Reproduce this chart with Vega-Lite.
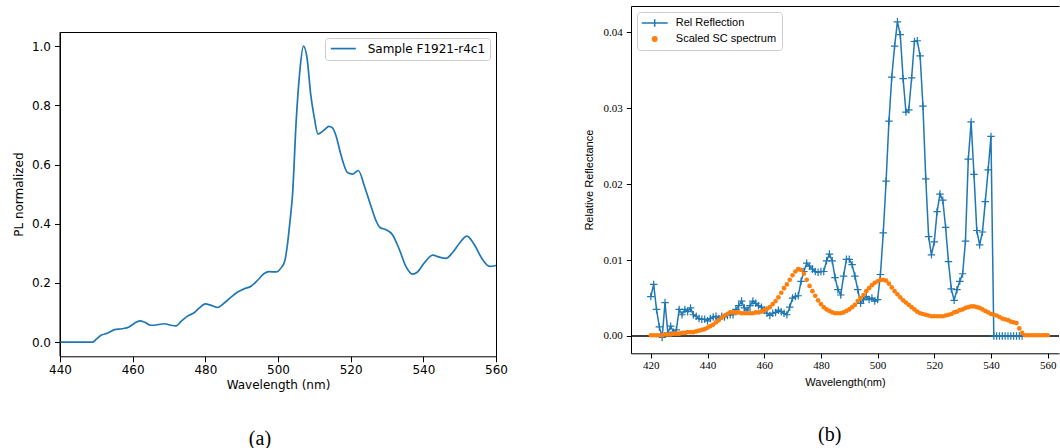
{
  "$schema": "https://vega.github.io/schema/vega-lite/v6.json",
  "background": "white",
  "padding": {"left": 11, "top": 5, "right": 0, "bottom": 0},
  "columns": 2,
  "align": "none",
  "spacing": {"row": 0, "column": 75},
  "resolve": {"scale": {"color": "independent"}, "legend": {"color": "independent"}},
  "config": {
    "font": "DejaVu Sans",
    "view": {"stroke": "black", "strokeWidth": 1},
    "axis": {"grid": false, "domainColor": "black", "tickColor": "black", "labelColor": "black", "titleColor": "black", "titleFontWeight": "normal"}
  },
  "datasets": {
    "pl": [
      {"w": 440, "v": 0}, {"w": 445, "v": 0}, {"w": 449, "v": 0}, {"w": 450, "v": 0.01}, {"w": 451.3, "v": 0.023},
      {"w": 453, "v": 0.03}, {"w": 455, "v": 0.042}, {"w": 457, "v": 0.045}, {"w": 459, "v": 0.051}, {"w": 460.5, "v": 0.064},
      {"w": 462, "v": 0.072}, {"w": 463.2, "v": 0.068}, {"w": 465, "v": 0.057}, {"w": 467, "v": 0.059}, {"w": 468.7, "v": 0.062},
      {"w": 470.5, "v": 0.057}, {"w": 472, "v": 0.055}, {"w": 473.3, "v": 0.07}, {"w": 475, "v": 0.087}, {"w": 477, "v": 0.1},
      {"w": 478.3, "v": 0.115}, {"w": 480, "v": 0.129}, {"w": 481.6, "v": 0.124}, {"w": 483.4, "v": 0.117}, {"w": 485.2, "v": 0.132},
      {"w": 487, "v": 0.151}, {"w": 488.9, "v": 0.169}, {"w": 490.7, "v": 0.18}, {"w": 492.6, "v": 0.189}, {"w": 494.4, "v": 0.209},
      {"w": 496.2, "v": 0.232}, {"w": 497.5, "v": 0.238}, {"w": 499.5, "v": 0.237}, {"w": 500.8, "v": 0.25}, {"w": 501.9, "v": 0.276},
      {"w": 502.6, "v": 0.33}, {"w": 503.3, "v": 0.408}, {"w": 504, "v": 0.498}, {"w": 505, "v": 0.746}, {"w": 506, "v": 0.915},
      {"w": 507, "v": 1.0}, {"w": 508, "v": 0.96}, {"w": 509, "v": 0.837}, {"w": 510, "v": 0.758}, {"w": 511, "v": 0.703},
      {"w": 512.8, "v": 0.718}, {"w": 514, "v": 0.729}, {"w": 515, "v": 0.724}, {"w": 516, "v": 0.696}, {"w": 517.3, "v": 0.634},
      {"w": 519.2, "v": 0.572}, {"w": 520.5, "v": 0.568}, {"w": 522.1, "v": 0.58}, {"w": 523.8, "v": 0.527}, {"w": 525.3, "v": 0.47},
      {"w": 527, "v": 0.41}, {"w": 528, "v": 0.388}, {"w": 529.7, "v": 0.38}, {"w": 531.5, "v": 0.363}, {"w": 533.4, "v": 0.313},
      {"w": 535.2, "v": 0.256}, {"w": 537, "v": 0.23}, {"w": 538.4, "v": 0.237}, {"w": 540.3, "v": 0.268}, {"w": 542.6, "v": 0.294},
      {"w": 544.4, "v": 0.287}, {"w": 546.2, "v": 0.283}, {"w": 548, "v": 0.302}, {"w": 550, "v": 0.335}, {"w": 552, "v": 0.358},
      {"w": 554, "v": 0.33}, {"w": 556.3, "v": 0.279}, {"w": 558.2, "v": 0.256}, {"w": 560, "v": 0.259}
    ],
    "refl": [
      {"w": 420, "v": 0.0052}, {"w": 421, "v": 0.0068}, {"w": 422, "v": 0.0035}, {"w": 423, "v": 0.0012}, {"w": 424, "v": -0.0002},
      {"w": 425, "v": 0.0044}, {"w": 426, "v": 0.0004}, {"w": 427, "v": 0.0013}, {"w": 428, "v": 0.0005}, {"w": 429, "v": 0.0008},
      {"w": 430, "v": 0.0035}, {"w": 431, "v": 0.0028}, {"w": 432, "v": 0.0035}, {"w": 433, "v": 0.0032}, {"w": 434, "v": 0.0037},
      {"w": 435, "v": 0.0028}, {"w": 436, "v": 0.0026}, {"w": 437, "v": 0.0023}, {"w": 438, "v": 0.0022}, {"w": 439, "v": 0.0022},
      {"w": 440, "v": 0.002}, {"w": 441, "v": 0.0023}, {"w": 442, "v": 0.0025}, {"w": 443, "v": 0.0026}, {"w": 444, "v": 0.0023},
      {"w": 445, "v": 0.0026}, {"w": 446, "v": 0.0025}, {"w": 447, "v": 0.0027}, {"w": 448, "v": 0.0028}, {"w": 449, "v": 0.0028},
      {"w": 450, "v": 0.0035}, {"w": 451, "v": 0.004}, {"w": 452, "v": 0.0046}, {"w": 453, "v": 0.0037}, {"w": 454, "v": 0.0034},
      {"w": 455, "v": 0.004}, {"w": 456, "v": 0.0046}, {"w": 457, "v": 0.0043}, {"w": 458, "v": 0.004}, {"w": 459, "v": 0.0038},
      {"w": 460, "v": 0.0034}, {"w": 461, "v": 0.003}, {"w": 462, "v": 0.0027}, {"w": 463, "v": 0.003}, {"w": 464, "v": 0.0031},
      {"w": 465, "v": 0.0034}, {"w": 466, "v": 0.0032}, {"w": 467, "v": 0.003}, {"w": 468, "v": 0.0028}, {"w": 469, "v": 0.0038},
      {"w": 470, "v": 0.005}, {"w": 471, "v": 0.0052}, {"w": 472, "v": 0.0053}, {"w": 473, "v": 0.0072}, {"w": 474, "v": 0.0085},
      {"w": 475, "v": 0.0096}, {"w": 476, "v": 0.0092}, {"w": 477, "v": 0.0088}, {"w": 478, "v": 0.0085}, {"w": 479, "v": 0.0084},
      {"w": 480, "v": 0.0085}, {"w": 481, "v": 0.0085}, {"w": 482, "v": 0.0099}, {"w": 483, "v": 0.0108}, {"w": 484, "v": 0.0099},
      {"w": 485, "v": 0.0077}, {"w": 486, "v": 0.0061}, {"w": 487, "v": 0.0054}, {"w": 488, "v": 0.0079}, {"w": 489, "v": 0.0101},
      {"w": 490, "v": 0.0101}, {"w": 491, "v": 0.0094}, {"w": 492, "v": 0.0079}, {"w": 493, "v": 0.0061}, {"w": 494, "v": 0.0043},
      {"w": 495, "v": 0.0048}, {"w": 496, "v": 0.0052}, {"w": 497, "v": 0.0048}, {"w": 498, "v": 0.005}, {"w": 499, "v": 0.0046},
      {"w": 500, "v": 0.0048}, {"w": 501, "v": 0.0081}, {"w": 502, "v": 0.0136}, {"w": 503, "v": 0.0204}, {"w": 504, "v": 0.0283},
      {"w": 505, "v": 0.0341}, {"w": 506, "v": 0.0382}, {"w": 507, "v": 0.0414}, {"w": 508, "v": 0.0397}, {"w": 509, "v": 0.0339},
      {"w": 510, "v": 0.0295}, {"w": 511, "v": 0.0298}, {"w": 512, "v": 0.034}, {"w": 513, "v": 0.0388}, {"w": 514, "v": 0.0389},
      {"w": 515, "v": 0.0369}, {"w": 516, "v": 0.0303}, {"w": 517, "v": 0.0207}, {"w": 518, "v": 0.0131}, {"w": 519, "v": 0.0107},
      {"w": 520, "v": 0.0124}, {"w": 521, "v": 0.0164}, {"w": 522, "v": 0.0187}, {"w": 523, "v": 0.0179}, {"w": 524, "v": 0.0143},
      {"w": 525, "v": 0.0098}, {"w": 526, "v": 0.0062}, {"w": 527, "v": 0.0047}, {"w": 528, "v": 0.0061}, {"w": 529, "v": 0.0072},
      {"w": 530, "v": 0.0082}, {"w": 531, "v": 0.0125}, {"w": 532, "v": 0.0233}, {"w": 533, "v": 0.0282}, {"w": 534, "v": 0.0213},
      {"w": 535, "v": 0.0139}, {"w": 536, "v": 0.012}, {"w": 537, "v": 0.0137}, {"w": 538, "v": 0.0177}, {"w": 539, "v": 0.0219},
      {"w": 540, "v": 0.0263}, {"w": 541, "v": 0}, {"w": 542, "v": 0}, {"w": 543, "v": 0}, {"w": 544, "v": 0},
      {"w": 545, "v": 0}, {"w": 546, "v": 0}, {"w": 547, "v": 0}, {"w": 548, "v": 0}, {"w": 549, "v": 0},
      {"w": 550, "v": 0}, {"w": 551, "v": 0}
    ],
    "sc": [
      {"w": 420, "v": 0.0001}, {"w": 421, "v": 0.0001}, {"w": 422, "v": 0.0001}, {"w": 423, "v": 0.0001}, {"w": 424, "v": 0.0001},
      {"w": 425, "v": 0.0002}, {"w": 426, "v": 0.0002}, {"w": 427, "v": 0.0002}, {"w": 428, "v": 0.0003}, {"w": 429, "v": 0.0003},
      {"w": 430, "v": 0.0003}, {"w": 431, "v": 0.0004}, {"w": 432, "v": 0.0004}, {"w": 433, "v": 0.0005}, {"w": 434, "v": 0.0005},
      {"w": 435, "v": 0.0005}, {"w": 436, "v": 0.0006}, {"w": 437, "v": 0.0007}, {"w": 438, "v": 0.0008}, {"w": 439, "v": 0.0009},
      {"w": 440, "v": 0.0011}, {"w": 441, "v": 0.0013}, {"w": 442, "v": 0.0015}, {"w": 443, "v": 0.0018}, {"w": 444, "v": 0.0021},
      {"w": 445, "v": 0.0024}, {"w": 446, "v": 0.0027}, {"w": 447, "v": 0.0029}, {"w": 448, "v": 0.0031}, {"w": 449, "v": 0.0031},
      {"w": 450, "v": 0.0031}, {"w": 451, "v": 0.0031}, {"w": 452, "v": 0.003}, {"w": 453, "v": 0.003}, {"w": 454, "v": 0.003},
      {"w": 455, "v": 0.003}, {"w": 456, "v": 0.003}, {"w": 457, "v": 0.0031}, {"w": 458, "v": 0.0031}, {"w": 459, "v": 0.0032},
      {"w": 460, "v": 0.0034}, {"w": 461, "v": 0.0036}, {"w": 462, "v": 0.0038}, {"w": 463, "v": 0.0042}, {"w": 464, "v": 0.0046},
      {"w": 465, "v": 0.0051}, {"w": 466, "v": 0.0057}, {"w": 467, "v": 0.0063}, {"w": 468, "v": 0.0068}, {"w": 469, "v": 0.0074},
      {"w": 470, "v": 0.008}, {"w": 471, "v": 0.0085}, {"w": 472, "v": 0.0088}, {"w": 473, "v": 0.0087}, {"w": 474, "v": 0.0082},
      {"w": 475, "v": 0.0074}, {"w": 476, "v": 0.0066}, {"w": 477, "v": 0.0059}, {"w": 478, "v": 0.0053}, {"w": 479, "v": 0.0047},
      {"w": 480, "v": 0.0042}, {"w": 481, "v": 0.0038}, {"w": 482, "v": 0.0035}, {"w": 483, "v": 0.0033}, {"w": 484, "v": 0.0031},
      {"w": 485, "v": 0.003}, {"w": 486, "v": 0.003}, {"w": 487, "v": 0.003}, {"w": 488, "v": 0.0031}, {"w": 489, "v": 0.0033},
      {"w": 490, "v": 0.0035}, {"w": 491, "v": 0.0038}, {"w": 492, "v": 0.0041}, {"w": 493, "v": 0.0046}, {"w": 494, "v": 0.005},
      {"w": 495, "v": 0.0054}, {"w": 496, "v": 0.0059}, {"w": 497, "v": 0.0063}, {"w": 498, "v": 0.0067}, {"w": 499, "v": 0.007},
      {"w": 500, "v": 0.0072}, {"w": 501, "v": 0.0074}, {"w": 502, "v": 0.0074}, {"w": 503, "v": 0.0073}, {"w": 504, "v": 0.0069},
      {"w": 505, "v": 0.0064}, {"w": 506, "v": 0.0059}, {"w": 507, "v": 0.0055}, {"w": 508, "v": 0.0051}, {"w": 509, "v": 0.0047},
      {"w": 510, "v": 0.0044}, {"w": 511, "v": 0.0041}, {"w": 512, "v": 0.0038}, {"w": 513, "v": 0.0035}, {"w": 514, "v": 0.0032},
      {"w": 515, "v": 0.003}, {"w": 516, "v": 0.0029}, {"w": 517, "v": 0.0028}, {"w": 518, "v": 0.0027}, {"w": 519, "v": 0.0026},
      {"w": 520, "v": 0.0026}, {"w": 521, "v": 0.0026}, {"w": 522, "v": 0.0026}, {"w": 523, "v": 0.0026}, {"w": 524, "v": 0.0027},
      {"w": 525, "v": 0.0028}, {"w": 526, "v": 0.0029}, {"w": 527, "v": 0.0031}, {"w": 528, "v": 0.0032}, {"w": 529, "v": 0.0034},
      {"w": 530, "v": 0.0035}, {"w": 531, "v": 0.0037}, {"w": 532, "v": 0.0038}, {"w": 533, "v": 0.0039}, {"w": 534, "v": 0.0039},
      {"w": 535, "v": 0.0038}, {"w": 536, "v": 0.0037}, {"w": 537, "v": 0.0035}, {"w": 538, "v": 0.0033}, {"w": 539, "v": 0.0031},
      {"w": 540, "v": 0.0029}, {"w": 541, "v": 0.0028}, {"w": 542, "v": 0.0027}, {"w": 543, "v": 0.0025}, {"w": 544, "v": 0.0023},
      {"w": 545, "v": 0.0022}, {"w": 546, "v": 0.0021}, {"w": 547, "v": 0.0019}, {"w": 548, "v": 0.0018}, {"w": 549, "v": 0.0017},
      {"w": 550, "v": 0.001}, {"w": 551, "v": 0.0004}, {"w": 552, "v": 0.0001}, {"w": 553, "v": 0.0001}, {"w": 554, "v": 0.0001},
      {"w": 555, "v": 0.0001}, {"w": 556, "v": 0.0001}, {"w": 557, "v": 0.0001}, {"w": 558, "v": 0.0001}, {"w": 559, "v": 0.0001},
      {"w": 560, "v": 0.0001}
    ]
  },
  "concat": [
    {"width": 1, "height": 1, "view": {"stroke": null}, "data": {"values": []}, "mark": "point"},
    {"width": 1, "height": 1, "view": {"stroke": null}, "data": {"values": []}, "mark": "point"},
    {
      "width": 436,
      "height": 324.3,
      "title": {"text": "(a)", "orient": "bottom", "font": "Liberation Serif", "fontSize": 20, "fontWeight": "normal", "color": "black", "frame": "bounds", "anchor": "middle", "offset": 38},
      "layer": [
        {
          "data": {"name": "pl"},
          "mark": {"type": "line", "strokeWidth": 1.7, "interpolate": "monotone"},
          "encoding": {
            "x": {"field": "w", "type": "quantitative", "scale": {"domain": [440, 560], "nice": false, "zero": false},
                  "axis": {"values": [440, 460, 480, 500, 520, 540, 560], "format": "d", "labelFlush": false, "domain": false,
                           "title": "Wavelength (nm)", "titleFont": "DejaVu Sans", "titleFontSize": 12, "labelFont": "DejaVu Sans", "labelFontSize": 12,
                           "tickSize": 5.5, "labelPadding": 3, "titlePadding": 4}},
            "y": {"field": "v", "type": "quantitative", "scale": {"domain": [-0.048, 1.048], "nice": false, "zero": false},
                  "axis": {"values": [0, 0.2, 0.4, 0.6, 0.8, 1.0], "format": ".1f", "domain": false,
                           "title": "PL normalized", "titleFont": "DejaVu Sans", "titleFontSize": 12, "labelFont": "DejaVu Sans", "labelFontSize": 12,
                           "tickSize": 5.5, "labelPadding": 4, "titlePadding": 6}},
            "color": {"datum": "Sample F1921-r4c1", "type": "nominal", "scale": {"domain": ["Sample F1921-r4c1"], "range": ["#1f77b4"]},
                      "legend": {"title": null, "orient": "top-right", "offset": 6, "padding": 4.6, "strokeColor": "#cccccc", "fillColor": "white",
                                 "cornerRadius": 3, "labelFont": "DejaVu Sans", "labelFontSize": 12, "labelColor": "black",
                                 "symbolType": "M-2.5,0L2.5,0", "symbolSize": 100, "symbolStrokeWidth": 1.7, "symbolOffset": 7.7, "labelOffset": 18.4}}
          }
        },
        {
          "data": {"values": [{}]},
          "mark": {"type": "rule", "color": "black", "strokeWidth": 1},
          "encoding": {
            "x": {"datum": 440, "type": "quantitative", "scale": {"domain": [440, 560], "nice": false, "zero": false},
                  "axis": {"orient": "top", "labels": false, "ticks": false, "domain": false, "grid": false, "title": null, "minExtent": 24.7, "maxExtent": 24.7}}
          }
        }
      ],
      "resolve": {"axis": {"x": "independent"}}
    },
    {
      "width": 428,
      "height": 347.3,
      "view": {"stroke": null},
      "title": {"text": "(b)", "orient": "bottom", "font": "Liberation Serif", "fontSize": 20, "fontWeight": "normal", "color": "black", "frame": "bounds", "anchor": "middle", "offset": 38, "dx": 8},
      "layer": [
        {
          "data": {"values": [{}]},
          "mark": {"type": "rule", "color": "black", "strokeWidth": 1.5},
          "encoding": {
            "y": {"datum": 0, "type": "quantitative", "scale": {"domain": [-0.00228, 0.04348], "nice": false, "zero": false}}
          }
        },
        {
          "data": {"name": "refl"},
          "mark": {"type": "line", "strokeWidth": 1.5},
          "encoding": {
            "x": {"field": "w", "type": "quantitative", "scale": {"domain": [413, 564], "nice": false, "zero": false},
                  "axis": {"values": [420, 440, 460, 480, 500, 520, 540, 560], "format": "d", "labelFlush": false, "domain": true,
                           "title": "Wavelength(nm)", "titleFont": "Liberation Sans", "titleFontSize": 11, "labelFont": "Liberation Serif", "labelFontSize": 11,
                           "tickSize": 4.7, "labelPadding": 1.5, "titlePadding": 5.5}},
            "y": {"field": "v", "type": "quantitative", "scale": {"domain": [-0.00228, 0.04348], "nice": false, "zero": false},
                  "axis": {"values": [0, 0.01, 0.02, 0.03, 0.04], "format": ".2f", "domain": true,
                           "title": "Relative Reflectance", "titleFont": "Liberation Sans", "titleFontSize": 11, "labelFont": "Liberation Serif", "labelFontSize": 11,
                           "tickSize": 4.7, "labelPadding": 4, "titlePadding": 8.5}},
            "color": {"datum": "Rel Reflection", "type": "nominal", "scale": {"domain": ["Rel Reflection", "Scaled SC spectrum"], "range": ["#1f77b4", "#ff7f0e"]},
                      "legend": {"title": null, "orient": "top-left", "offset": 6, "padding": 5.5, "strokeColor": "#cccccc", "fillColor": "white",
                                 "cornerRadius": 3, "labelFont": "Liberation Sans", "labelFontSize": 11, "labelColor": "black", "rowPadding": 2,
                                 "symbolSize": 100, "symbolOffset": 6.7, "labelOffset": 15.6,
                                 "encode": {"symbols": {"update": {
                                   "shape": {"signal": "datum.value === 'Rel Reflection' ? 'M-2.6,0L2.6,0M0,-0.75L0,0.75' : 'circle'"},
                                   "size": {"signal": "datum.value === 'Rel Reflection' ? 100 : 20"},
                                   "fill": {"signal": "datum.value === 'Rel Reflection' ? 'transparent' : '#ff7f0e'"},
                                   "stroke": {"signal": "datum.value === 'Rel Reflection' ? '#1f77b4' : 'transparent'"},
                                   "strokeWidth": {"value": 1.5},
                                   "opacity": {"value": 1},
                                   "fillOpacity": {"value": 1},
                                   "strokeOpacity": {"value": 1}
                                 }}}}}
          }
        },
        {
          "data": {"name": "refl"},
          "mark": {"type": "point", "shape": "M-1,0L1,0M0,-1L0,1", "size": 56, "filled": false, "strokeWidth": 1.2, "opacity": 1},
          "encoding": {
            "x": {"field": "w", "type": "quantitative", "scale": {"domain": [413, 564], "nice": false, "zero": false}, "axis": null},
            "y": {"field": "v", "type": "quantitative", "scale": {"domain": [-0.00228, 0.04348], "nice": false, "zero": false}},
            "color": {"datum": "Rel Reflection", "type": "nominal"}
          }
        },
        {
          "data": {"name": "sc"},
          "mark": {"type": "circle", "size": 22, "opacity": 1},
          "encoding": {
            "x": {"field": "w", "type": "quantitative", "scale": {"domain": [413, 564], "nice": false, "zero": false},
                  "axis": {"orient": "top", "labels": false, "ticks": false, "title": null, "domain": true, "grid": false}},
            "y": {"field": "v", "type": "quantitative", "scale": {"domain": [-0.00228, 0.04348], "nice": false, "zero": false}},
            "color": {"datum": "Scaled SC spectrum", "type": "nominal"}
          }
        }
      ],
      "resolve": {"axis": {"x": "independent"}}
    }
  ]
}
